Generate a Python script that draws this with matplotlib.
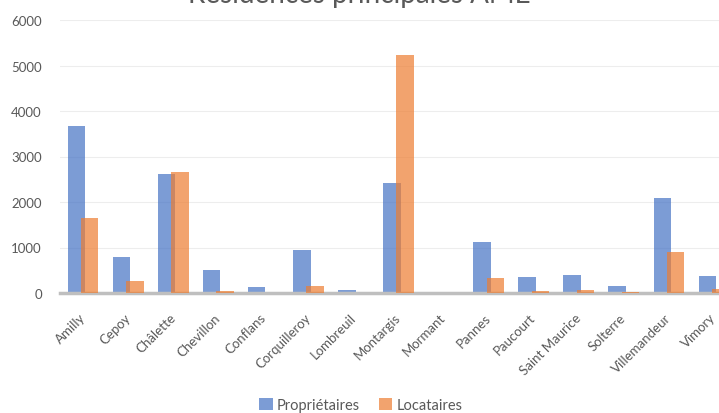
import matplotlib
matplotlib.use("Agg")
import matplotlib.pyplot as plt
import numpy as np

plt.rcParams['font.family'] = ['Lato', 'DejaVu Sans']

communes = ["Amilly", "Cepoy", "Châlette", "Chevillon", "Conflans", "Corquilleroy",
            "Lombreuil", "Montargis", "Mormant", "Pannes", "Paucourt", "Saint Maurice",
            "Solterre", "Villemandeur", "Vimory"]
proprietaires = [3680, 800, 2620, 510, 130, 950, 60, 2420, 0, 1130, 350, 400, 150, 2080, 380]
locataires = [1650, 260, 2650, 40, 0, 150, 0, 5220, 0, 330, 50, 60, 30, 900, 80]
yticks = [0, 1000, 2000, 3000, 4000, 5000, 6000]
title = "Résidences principales AME"

fig = plt.figure(figsize=(7.19, 4.14), dpi=100)
ax = fig.add_axes([60/719, (414-294)/414, 1-60/719, (294-21)/414])

x = np.arange(len(communes))
w = 0.38
off = 0.145
ax.bar(x - off, proprietaires, w, color="#4472C4", alpha=0.7, label="Propriétaires", zorder=2)
ax.bar(x + off, locataires, w, color="#ED7D31", alpha=0.7, label="Locataires", zorder=3)

ax.set_ylim(0, 6000)
ax.set_xlim(-0.52, 14.12)
ax.set_yticks(yticks)
ax.set_yticklabels([str(v) for v in yticks], fontsize=9.5, color="#595959")
ax.set_xticks(x)
ax.set_xticklabels(communes, rotation=45, ha="right", va="center", rotation_mode="anchor",
                   fontsize=9.5, color="#595959")
ax.tick_params(axis="both", length=0)
ax.tick_params(axis="y", pad=13)
ax.tick_params(axis="x", pad=16)
ax.grid(axis="y", color="#EDEDED", linewidth=0.8, zorder=0)
ax.set_axisbelow(True)
for s in ["top", "right", "left"]:
    ax.spines[s].set_visible(False)
ax.spines["bottom"].set_color("#BFBFBF")
ax.spines["bottom"].set_linewidth(2.5)

fig.text(0.5, 1 - 3/414, title, ha="center", va="baseline", fontsize=20, color="#595959")

fig.legend(loc="center", bbox_to_anchor=(361/719, 1 - 406/414), ncol=2, frameon=False,
           fontsize=10.5, handlelength=0.9, handleheight=0.9, handletextpad=0.3,
           columnspacing=1.3, labelcolor="#595959")

fig.savefig("out.png", dpi=100)
